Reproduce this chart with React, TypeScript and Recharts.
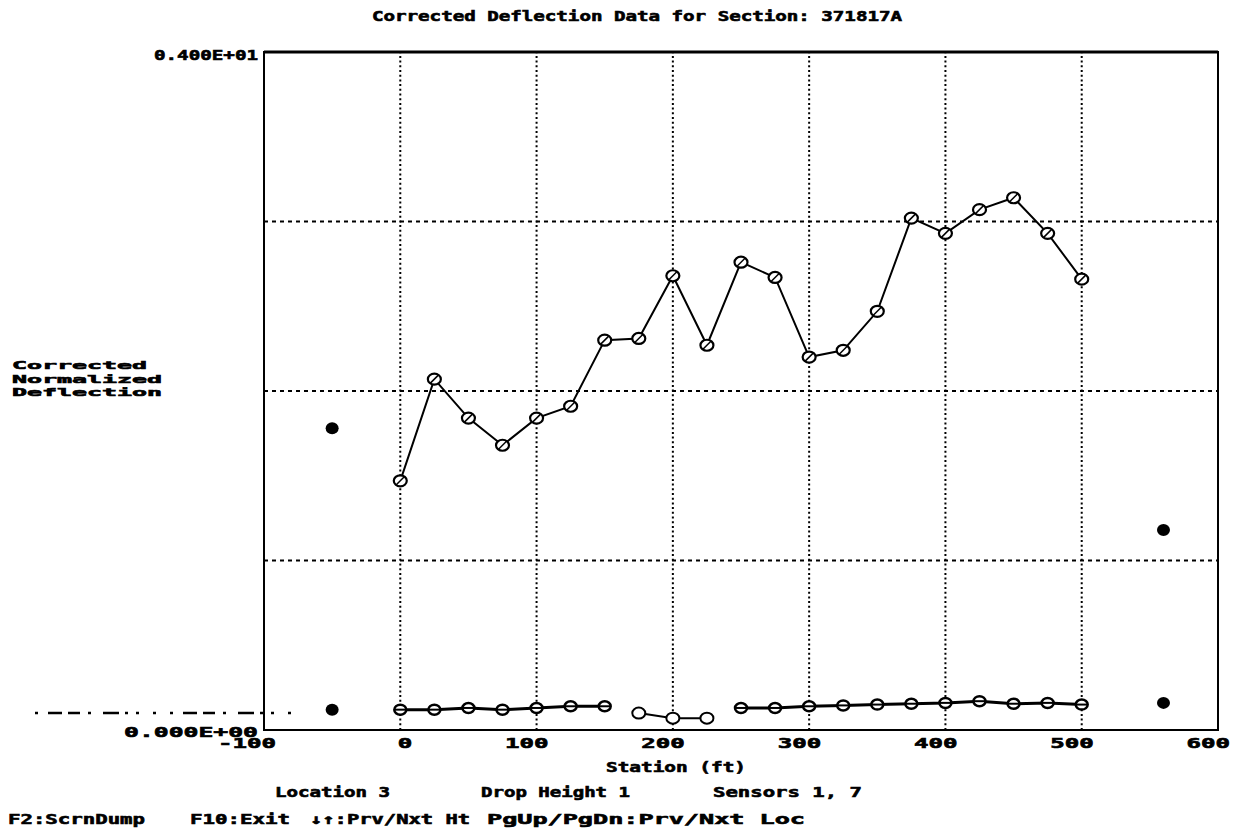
import { ComposedChart, Line, Scatter, XAxis, YAxis, ReferenceLine, ReferenceArea } from 'recharts';

const W = 1246;
const H = 840;
const FONT = '"DejaVu Sans Mono", "Liberation Mono", monospace';

// stations along the section (ft)
const stations = [0, 25, 50, 75, 100, 125, 150, 175, 200, 225, 250, 275, 300, 325, 350, 375, 400, 425, 450, 475, 500];
// sensor 1 corrected normalized deflection
const sensor1 = [1.47, 2.07, 1.84, 1.68, 1.84, 1.91, 2.30, 2.31, 2.68, 2.27, 2.76, 2.67, 2.20, 2.24, 2.47, 3.02, 2.93, 3.07, 3.14, 2.93, 2.66];
// sensor 7, main run (gaps where the alternate run takes over)
const sensor7 = [0.12, 0.12, 0.13, 0.12, 0.13, 0.14, 0.14, null, null, null, 0.13, 0.13, 0.14, 0.145, 0.15, 0.155, 0.16, 0.17, 0.155, 0.16, 0.15];
const sensor7Alt = [null, null, null, null, null, null, null, 0.10, 0.07, 0.07, null, null, null, null, null, null, null, null, null, null, null];
// averages drawn outside the section
const avgX = [-50, -50, 560, 560];
const avgY = [1.78, 0.12, 1.18, 0.16];

const xTicks = [-100, 0, 100, 200, 300, 400, 500, 600];
const xGrid = [0, 100, 200, 300, 400, 500];
const yTicks = [0, 4];
const yGrid = [1, 2, 3];
const yTickLabels: Record<number, string> = { 0: '0.000E+00', 4: '0.400E+01' };

const s1Data = stations.map((x, i) => ({ x, y: sensor1[i] }));
const s7Data = stations.map((x, i) => ({ x, y: sensor7[i] }));
const s7AltData = stations.map((x, i) => ({ x, y: sensor7Alt[i] }));
const avgData = avgX.map((x, i) => ({ x, y: avgY[i] }));

const SlashDot = (props: any) => {
    const { cx, cy, index } = props;
    if (cy == null || isNaN(cy)) return <g key={`s1-${index}`} />;
    return (
        <g key={`s1-${index}`}>
            <ellipse cx={cx} cy={cy} rx={6.5} ry={5.5} fill="#fff" stroke="#000" strokeWidth={2.2} />
            <line x1={cx - 4} y1={cy + 4} x2={cx + 4} y2={cy - 4} stroke="#000" strokeWidth={1.5} />
        </g>
    );
};

const BarDot = (props: any) => {
    const { cx, cy, index } = props;
    if (cy == null || isNaN(cy)) return <g key={`s7-${index}`} />;
    return (
        <g key={`s7-${index}`}>
            <ellipse cx={cx} cy={cy} rx={6} ry={5} fill="#fff" stroke="#000" strokeWidth={2.5} />
            <line x1={cx - 6} y1={cy} x2={cx + 6} y2={cy} stroke="#000" strokeWidth={2} />
        </g>
    );
};

const AltDot = (props: any) => {
    const { cx, cy, index } = props;
    if (cy == null || isNaN(cy)) return <g key={`s7a-${index}`} />;
    return (
        <g key={`s7a-${index}`}>
            <ellipse cx={cx} cy={cy} rx={6.5} ry={5.5} fill="#fff" stroke="#000" strokeWidth={2} />
        </g>
    );
};

const FilledDot = (props: any) => {
    const { cx, cy } = props;
    return <ellipse cx={cx} cy={cy} rx={6.5} ry={6} fill="#000" />;
};

const XTick = (props: any) => {
    const { x, y, payload } = props;
    const label = String(payload.value);
    return (
        <text x={x + 12} y={y + 18} textAnchor="end" fontFamily={FONT} fontWeight="bold" fontSize={14}
            textLength={label.length * 14.5} lengthAdjust="spacingAndGlyphs" fill="#000"
            stroke="#000" strokeWidth={0.6}>
            {label}
        </text>
    );
};

const YTick = (props: any) => {
    const { x, y, payload } = props;
    const label = yTickLabels[payload.value] ?? '';
    const isZero = payload.value === 0;
    return (
        <g>
            {isZero && (
                <line x1={x - 229} y1={y - 17} x2={x + 30} y2={y - 17} stroke="#000" strokeWidth={2.5}
                    strokeDasharray="3 10 14 6 12 8 3 12 16 6 3 8 3 14 3 14" />
            )}
            <text x={x - 6} y={y + (isZero ? 7 : 8)} textAnchor="end" fontFamily={FONT} fontWeight="bold"
                fontSize={14} textLength={isZero ? 134 : 104} lengthAdjust="spacingAndGlyphs" fill="#000"
                stroke="#000" strokeWidth={0.6}>
                {label}
            </text>
        </g>
    );
};

const T = ({ x, y, w, size = 14, children }: { x: number; y: number; w: number; size?: number; children: string }) => (
    <text x={x} y={y} fontFamily={FONT} fontWeight="bold" fontSize={size} textLength={w}
        lengthAdjust="spacingAndGlyphs" fill="#000" stroke="#000" strokeWidth={0.6}>
        {children}
    </text>
);

export default function App() {
    return (
        <div style={{ position: 'absolute', left: 0, top: 0, width: W, height: H, background: '#fff' }}>
            <ComposedChart width={W} height={H} margin={{ top: 52, right: 28, bottom: 80, left: 164 }}>
                <XAxis type="number" dataKey="x" domain={[-100, 600]} ticks={xTicks} allowDataOverflow
                    axisLine={false} tickLine={false} tickSize={0} tickMargin={0} height={30}
                    tick={<XTick />} interval={0} />
                <YAxis type="number" domain={[0, 4]} ticks={yTicks} allowDataOverflow
                    axisLine={false} tickLine={false} tickSize={0} tickMargin={0} width={100}
                    tick={<YTick />} interval={0} />
                {xGrid.map((v) => (
                    <ReferenceLine key={`xg${v}`} x={v} stroke="#000" strokeWidth={2} strokeDasharray="2 2.7" />
                ))}
                {yGrid.map((v) => (
                    <ReferenceLine key={`yg${v}`} y={v} stroke="#000" strokeWidth={2} strokeDasharray="4 4" />
                ))}
                <ReferenceArea x1={-100} x2={600} y1={0} y2={4} fill="none" stroke="#000" strokeWidth={2} />
                <ReferenceLine y={4} stroke="#000" strokeWidth={3} />
                <Line data={s1Data} dataKey="y" stroke="#000" strokeWidth={2} dot={SlashDot}
                    isAnimationActive={false} connectNulls={false} />
                <Line data={s7Data} dataKey="y" stroke="#000" strokeWidth={3} dot={BarDot}
                    isAnimationActive={false} connectNulls={false} />
                <Line data={s7AltData} dataKey="y" stroke="#000" strokeWidth={2} dot={AltDot}
                    isAnimationActive={false} connectNulls={false} />
                <Scatter data={avgData} dataKey="y" shape={<FilledDot />} isAnimationActive={false} />
            </ComposedChart>
            <svg width={W} height={H} style={{ position: 'absolute', left: 0, top: 0, pointerEvents: 'none' }}>
                <T x={372} y={21} w={530}>Corrected Deflection Data for Section: 371817A</T>
                <T x={12} y={369} w={135} size={11}>Corrected</T>
                <T x={12} y={382.5} w={150} size={11}>Normalized</T>
                <T x={12} y={396} w={150} size={11}>Deflection</T>
                <T x={606} y={772} w={140}>Station (ft)</T>
                <T x={275} y={797} w={115}>Location 3</T>
                <T x={481} y={797} w={149}>Drop Height 1</T>
                <T x={713} y={797} w={149}>Sensors 1, 7</T>
                <T x={8} y={824} w={137}>F2:ScrnDump</T>
                <T x={190} y={824} w={100}>F10:Exit</T>
                <T x={310} y={824} w={160}>↓↑:Prv/Nxt Ht</T>
                <T x={487} y={824} w={318}>PgUp/PgDn:Prv/Nxt Loc</T>
            </svg>
        </div>
    );
}
